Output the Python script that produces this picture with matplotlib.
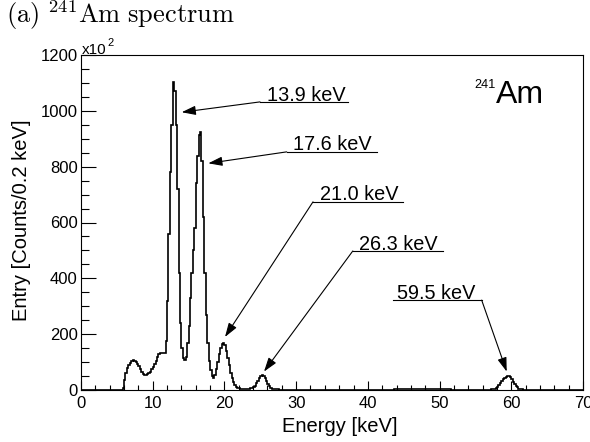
import numpy as np
import matplotlib
matplotlib.use("Agg")
import matplotlib.pyplot as plt

plt.rcParams['font.family'] = ['Liberation Sans', 'DejaVu Sans']
plt.rcParams['mathtext.fontset'] = 'cm'

# ---------------- data (counts in units of 10^2 per 0.2 keV bin) ----------------
bin_width = 0.2
e_min, e_max = 0.0, 70.0
counts = [
    0, 0, 0, 0, 0,          # 0
    0, 0, 0, 0, 0,          # 1
    0, 0, 0, 0, 0,          # 2
    0, 0, 0, 0, 0,          # 3
    0, 0, 0, 0, 0,          # 4
    0, 0, 0, 1, 8,          # 5
    35, 60, 78, 90, 98,     # 6
    103, 106, 105, 101, 94, # 7
    85, 75, 66, 59, 55,     # 8
    54, 56, 60, 66, 74,     # 9
    83, 93, 104, 118, 130,  # 10
    133, 132, 131, 134, 175,# 11
    320, 560, 780, 950, 1104,  # 12
    1070, 950, 720, 420, 240,  # 13
    150, 115, 106, 118, 170,   # 14
    230, 330, 420, 500, 580,   # 15
    740, 840, 915, 923, 820,   # 16
    620, 420, 270, 170, 105,   # 17
    70, 50, 44, 55, 75,     # 18
    100, 130, 152, 166, 170,# 19
    160, 140, 115, 88, 62,  # 20
    42, 27, 17, 11, 8,      # 21
    6, 5, 5, 4, 4,          # 22
    4, 4, 5, 6, 8,          # 23
    11, 16, 24, 34, 44,     # 24
    51, 54, 50, 42, 31,     # 25
    21, 13, 8, 5, 3,        # 26
    2, 2, 2, 1, 1,          # 27
    1, 1, 1, 1, 1,          # 28
    1, 1, 1, 1, 1,          # 29
    1, 1, 1, 1, 1,          # 30
    1, 1, 1, 1, 1,          # 31
    1, 1, 1, 1, 1,          # 32
    1, 1, 1, 1, 1,          # 33
    1, 1, 1, 1, 1,          # 34
    1, 1, 1, 1, 1,          # 35
    1, 1, 1, 1, 1,          # 36
    1, 1, 1, 1, 1,          # 37
    1, 1, 1, 1, 1,          # 38
    1, 1, 1, 1, 1,          # 39
    1, 1, 1, 1, 1,          # 40
    1, 1, 1, 1, 1,          # 41
    1, 1, 1, 1, 1,          # 42
    1, 1, 1, 2, 2,          # 43
    2, 2, 2, 2, 2,          # 44
    2, 2, 2, 3, 3,          # 45
    3, 3, 4, 4, 4,          # 46
    4, 5, 5, 5, 5,          # 47
    5, 5, 5, 5, 5,          # 48
    5, 5, 5, 4, 4,          # 49
    4, 3, 3, 2, 2,          # 50
    2, 2, 2, 1, 1,          # 51
    1, 1, 1, 1, 1,          # 52
    1, 1, 1, 1, 1,          # 53
    1, 1, 1, 1, 1,          # 54
    1, 1, 1, 1, 1,          # 55
    1, 1, 1, 1, 1,          # 56
    1, 2, 3, 5, 8,          # 57
    12, 17, 24, 31, 38,     # 58
    44, 48, 50, 49, 45,     # 59
    38, 30, 22, 15, 9,      # 60
    5, 3, 2, 1, 1,          # 61
    1, 1, 0, 0, 0,          # 62
    0, 0, 0, 0, 0,          # 63
    0, 0, 0, 0, 0,          # 64
    0, 0, 0, 0, 0,          # 65
    0, 0, 0, 0, 0,          # 66
    0, 0, 0, 0, 0,          # 67
    0, 0, 0, 0, 0,          # 68
    0, 0, 0, 0, 0,          # 69
]

peak_labels = ["13.9 keV", "17.6 keV", "21.0 keV", "26.3 keV", "59.5 keV"]
# label text anchor (energy, counts), underline extent, arrow start, arrow tip
label_pos = [(25.9, 1037), (29.6, 858), (33.3, 679), (38.8, 503), (44.0, 327)]
underline_x = [(24.96, 37.23), (28.68, 41.23), (32.35, 44.90), (37.90, 50.44), (43.46, 55.87)]
underline_y = [1032, 853, 674, 498, 322]
arrow_start = [(24.96, 1032), (28.68, 853), (32.35, 674), (37.90, 498), (55.87, 322)]
arrow_tip = [(14.04, 995), (17.75, 812), (20.08, 190), (25.52, 66), (59.36, 66)]

x_ticks = [0, 10, 20, 30, 40, 50, 60, 70]
y_ticks = [0, 200, 400, 600, 800, 1000, 1200]

# ---------------- figure ----------------
W, H = 590, 442
fig = plt.figure(figsize=(W / 100, H / 100), dpi=100)

def px(x, y):
    return (x / W, 1 - y / H)

ax_l, ax_r, ax_t, ax_b = 81, 583, 55, 390
ax = fig.add_axes([ax_l / W, 1 - ax_b / H, (ax_r - ax_l) / W, (ax_b - ax_t) / H])

nb = len(counts)
edges = e_min + bin_width * np.arange(nb + 1)
ax.stairs(counts, edges, color='black', lw=1.2, baseline=0)

ax.set_xlim(e_min, e_max)
ax.set_ylim(0, 1200)
ax.set_xticks(x_ticks)
ax.set_yticks(y_ticks)
ax.set_xticks(np.arange(0, 71, 2), minor=True)
ax.set_yticks(np.arange(0, 1201, 50), minor=True)
ax.tick_params(axis='both', which='both', direction='in', top=False, right=False,
               width=0.8, labelsize=12)
ax.tick_params(axis='y', which='major', length=10.8, pad=2.5)
ax.tick_params(axis='y', which='minor', length=5.8)
ax.tick_params(axis='x', which='major', length=6.5, pad=4.5)
ax.tick_params(axis='x', which='minor', length=3.6)
for s in ax.spines.values():
    s.set_linewidth(0.8)

# peak annotations
for lab, (tx, ty), (ux0, ux1), uy, st, tip in zip(peak_labels, label_pos, underline_x,
                                                  underline_y, arrow_start, arrow_tip):
    ax.text(tx, ty, lab, fontsize=14.3, ha='left', va='baseline', color='black')
    ax.plot([ux0, ux1], [uy, uy], color='black', lw=0.8)
    ax.annotate('', xy=tip, xytext=st,
                arrowprops=dict(arrowstyle='-|>,head_length=0.85,head_width=0.28',
                                color='black', lw=0.8, mutation_scale=10,
                                shrinkA=0, shrinkB=0))

# axis titles
fig.text(*px(340, 432), 'Energy [keV]', fontsize=14.5, ha='center', va='baseline')
fig.text(*px(22, 220), 'Entry [Counts/0.2 keV]', fontsize=14.5, ha='center', va='center',
         rotation=90)

# exponent label
fig.text(*px(81.5, 53.5), 'x10', fontsize=11, ha='left', va='baseline')
fig.text(*px(107.5, 46.5), '2', fontsize=8, ha='left', va='baseline')

# isotope label
fig.text(*px(474, 88), '241', fontsize=9.2, ha='left', va='baseline')
fig.text(*px(496, 103), 'Am', fontsize=23, ha='left', va='baseline')

# panel title
fig.text(*px(6, 23.5), r'$\mathrm{(a)\ {}^{241}Am\ spectrum}$', fontsize=19,
         ha='left', va='baseline')

fig.savefig('out.png', dpi=100)
